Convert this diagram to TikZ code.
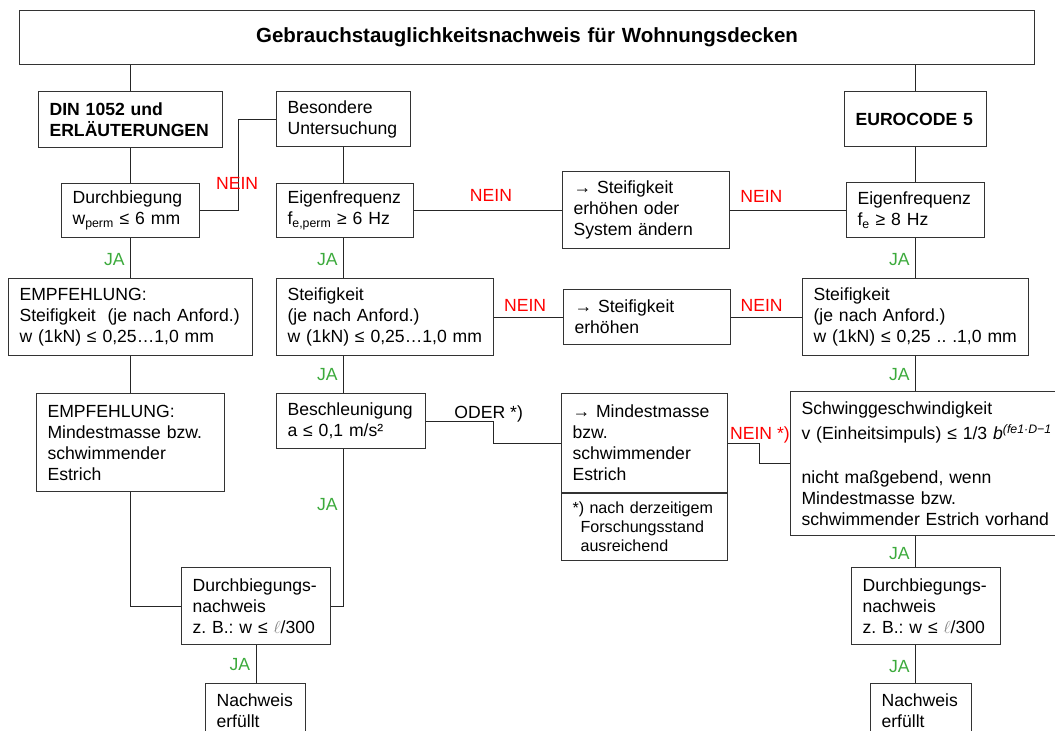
\documentclass[tikz,border=0pt]{standalone}
\usepackage{fontspec}
\setmainfont{Liberation Sans}
\usetikzlibrary{positioning}
\definecolor{jagreen}{RGB}{60,170,60}
\frenchspacing

\begin{document}
\begin{tikzpicture}[x=1pt, y=-1pt,
  box/.style={draw=black!80, line width=1.1pt, anchor=north west, align=left,
    inner xsep=11pt, inner ysep=0pt, font=\fontsize{17.6}{21}\selectfont},
  bold/.style={font=\fontsize{17.6}{21}\selectfont\bfseries},
  line/.style={draw=black!85, line width=0.8pt},
  ja/.style={text=jagreen, inner sep=0pt, left=5.5pt, font=\fontsize{17.6}{21}\selectfont},
  nein/.style={text=red, inner sep=0pt, font=\fontsize{17.6}{21}\selectfont},
  note/.style={inner sep=0pt, font=\fontsize{17.6}{21}\selectfont}]
 \useasboundingbox (0,0) rectangle (1055,731);
 \clip (0,0) rectangle (1055,731);

 \node[box, align=center, font=\fontsize{20.5}{24}\selectfont\bfseries, text width=993pt, minimum height=54pt] (title) at (19,10) {Gebrauchstauglichkeitsnachweis für Wohnungsdecken};

 \node[box, bold, text width=162pt, minimum height=56pt] (din) at (38,91) {DIN 1052 und\\ERLÄUTERUNGEN};
 \node[box, text width=112pt, minimum height=55pt] (beso) at (276,91) {Besondere\\Untersuchung};
 \node[box, bold, text width=120pt, minimum height=55pt] (ec) at (844,91) {EUROCODE 5};

 \node[box, text width=116pt, minimum height=54pt] (durch) at (61,183) {Durchbiegung\\w\textsubscript{perm} ≤ 6 mm};
 \node[box, text width=115pt, minimum height=54pt] (eig) at (276,183) {Eigenfrequenz\\f\textsubscript{e,perm} ≥ 6 Hz};
 \node[box, text width=145pt, minimum height=77pt] (seo) at (562,171) {→ Steifigkeit\\erhöhen oder\\System ändern};
 \node[box, text width=116pt, minimum height=55pt] (eig8) at (846,182) {Eigenfrequenz\\f\textsubscript{e} ≥ 8 Hz};

 \node[box, text width=222pt, minimum height=77pt] (emp1) at (8,278) {EMPFEHLUNG:\\\mbox{Steifigkeit\ \ (je nach Anford.)}\\\mbox{w (1kN) ≤ 0,25…1,0 mm}};
 \node[box, text width=195pt, minimum height=77pt] (steif) at (276,278) {Steifigkeit\\(je nach Anford.)\\\mbox{w (1kN) ≤ 0,25…1,0 mm}};
 \node[box, text width=145pt, minimum height=55pt] (se) at (563,289) {→ Steifigkeit\\erhöhen};
 \node[box, text width=204pt, minimum height=77pt] (steifR) at (802,278) {Steifigkeit\\(je nach Anford.)\\\mbox{w (1kN) ≤ 0,25 .. .1,0 mm}};

 \node[box, text width=166pt, minimum height=98pt] (emp2) at (36,393) {EMPFEHLUNG:\\Mindestmasse bzw.\\schwimmender\\Estrich};
 \node[box, text width=127pt, minimum height=55pt] (besch) at (276,393) {Beschleunigung\\a ≤ 0,1 m/s²};
 \node[box, text width=144pt, minimum height=99pt] (mm) at (561,393) {→ Mindestmasse\\bzw.\\schwimmender\\Estrich};
 \node[box, below=0pt of mm, text width=144pt, minimum height=67pt, font=\fontsize{16.1}{19}\selectfont] (fn) {*) nach derzeitigem\\\hspace*{8pt}Forschungsstand\\\hspace*{8pt}ausreichend};
 \node[box, text width=318pt, minimum height=144pt] (schw) at (790,391) {Schwinggeschwindigkeit\\[4pt]v (Einheitsimpuls) ≤ 1/3 {\itshape b}\textsuperscript{\itshape (fe1·D−1}\\[23pt]nicht maßgebend, wenn\\Mindestmasse bzw.\\schwimmender Estrich vorhand};

 \node[box, text width=127pt, minimum height=77pt] (dn) at (181,567) {Durchbiegungs-\\nachweis\\\mbox{z. B.: w ≤ \textcolor{black!50}{$\ell$}/300}};
 \node[box, text width=127pt, minimum height=77pt] (dnR) at (851,567) {Durchbiegungs-\\nachweis\\\mbox{z. B.: w ≤ \textcolor{black!50}{$\ell$}/300}};
 \node[box, text width=78pt, inner ysep=10pt, text depth=45pt] (ne) at (205,683) {Nachweis\\erfüllt};
 \node[box, text width=79pt, inner ysep=10pt, text depth=45pt] (neR) at (870,683) {Nachweis\\erfüllt};

 % linke Spalte
 \draw[line] (title.south -| din.north) -- (din.north);
 \draw[line] (din.south) -- (durch.north);
 \draw[line] (durch.south) -- node[ja, pos=0.54] (ja1) {JA} (emp1.north);
 \draw[line] (emp1.south) -- (emp2.north);
 \draw[line] (emp2.south) |- (dn.west);
 \draw[line] (dn.south) -- node[ja, pos=0.51] (ja5) {JA} (dn.south |- ne.north);

 % mittlere Spalte
 \draw[line] (durch.east) -- ++(38,0) |- node[nein, pos=0.15, xshift=-1pt] (nein1) {NEIN} (beso.west);
 \draw[line] (beso.south) -- (beso.south |- eig.north);
 \draw[line] (beso.south |- eig.south) -- node[ja, pos=0.54] (ja2) {JA} (beso.south |- steif.north);
 \draw[line] (beso.south |- steif.south) -- node[ja] (ja3) {JA} (beso.south |- besch.north);
 \draw[line] (beso.south |- besch.south) |- node[ja, pos=0.175] (ja4) {JA} (dn.east);

 % Querverbindungen
 \draw[line] (eig.east) -- node[nein, above=9pt, pos=0.52] (nein2) {NEIN} (eig.east -| seo.west);
 \draw[line] (seo.east) -- node[nein, above=7.3pt, pos=0.27] (nein3) {NEIN} (seo.east -| eig8.west);
 \draw[line] (steif.east) -- node[nein, above=5.2pt, pos=0.45] (nein4) {NEIN} (steif.east -| se.west);
 \draw[line] (se.east) -- node[nein, above=5.5pt, pos=0.43] (nein5) {NEIN} (se.east -| steifR.west);
 \draw[line] (besch.east) -- ++(67.6,0) node[note, anchor=base, xshift=-5pt, yshift=3pt] (oder) {ODER *)} |- (mm.west);
 \draw[line] (mm.east) -- ++(30.8,0) node[nein, anchor=base, xshift=1pt, yshift=3.7pt] (nein6) {NEIN *)} |- (schw.west);

 % rechte Spalte
 \draw[line] (title.south -| ec.north) -- (ec.north);
 \draw[line] (ec.south) -- (eig8.north);
 \draw[line] (eig8.south) -- node[ja, pos=0.54] (ja6) {JA} (steifR.north);
 \draw[line] (steifR.south) -- node[ja, pos=0.53] (ja7) {JA} (steifR.south |- schw.north);
 \draw[line] (steifR.south |- schw.south) -- node[ja, pos=0.58] (ja8) {JA} (steifR.south |- dnR.north);
 \draw[line] (steifR.south |- dnR.south) -- node[ja, pos=0.56] (ja9) {JA} (steifR.south |- neR.north);
\end{tikzpicture}
\end{document}
